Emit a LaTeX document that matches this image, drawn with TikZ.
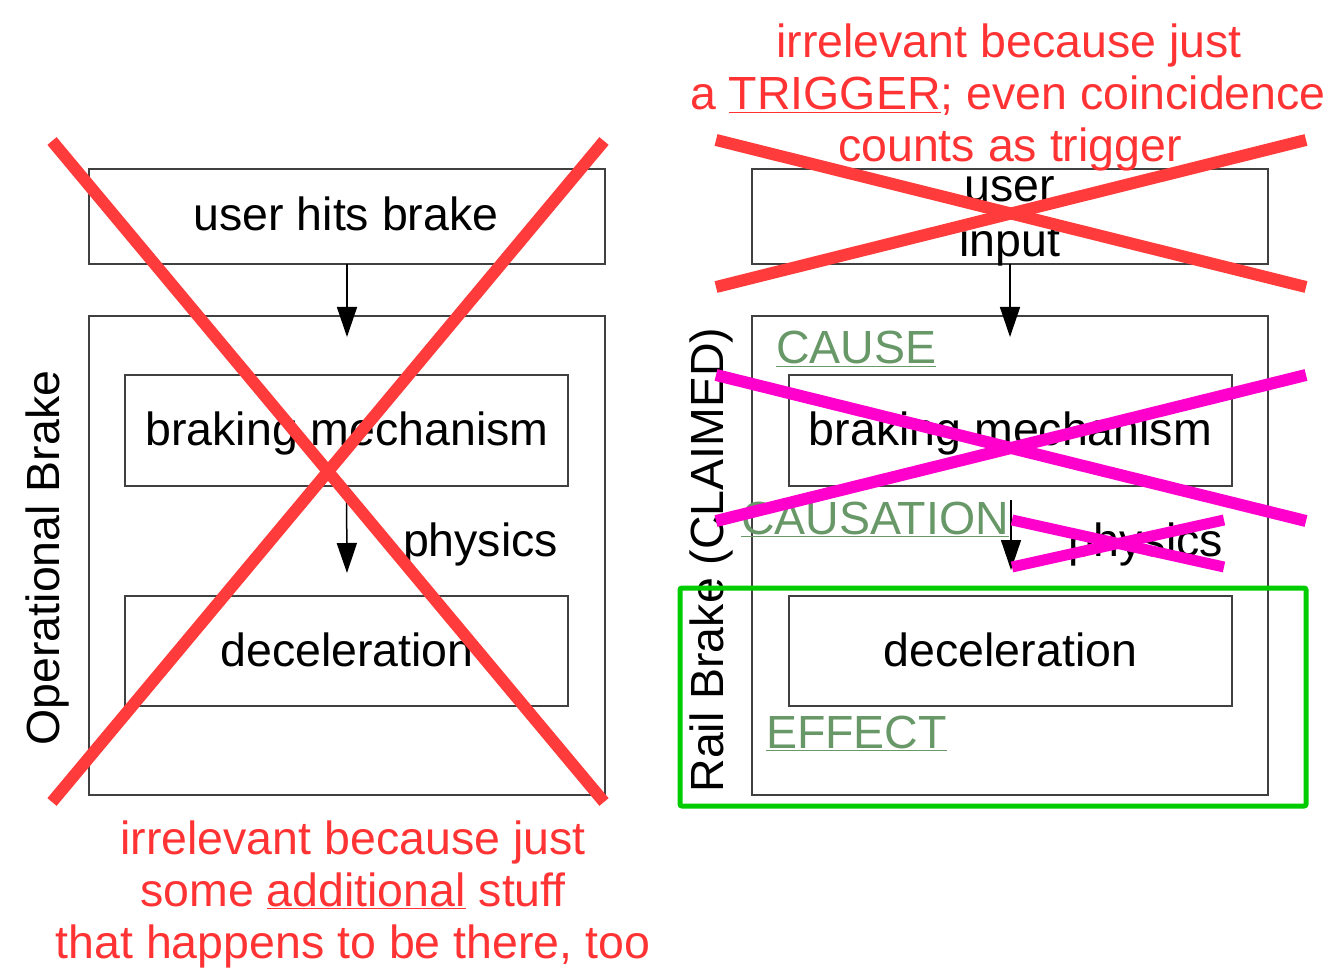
\documentclass[tikz,border=0pt]{standalone}
\usepackage{fontspec}
\setmainfont{Liberation Sans}
\usetikzlibrary{arrows.meta}
\definecolor{xred}{RGB}{255,59,59}
\definecolor{tred}{RGB}{255,51,51}
\definecolor{xmag}{RGB}{255,0,204}
\definecolor{tgreen}{RGB}{104,152,104}
\definecolor{gbox}{RGB}{0,204,0}
\definecolor{boxline}{RGB}{64,64,64}
\begin{document}
\begin{tikzpicture}[x=1pt,y=-1pt,
  every node/.style={inner sep=0pt, outer sep=0pt, font=\fontsize{46.5}{52}\selectfont},
  box/.style={draw=boxline, line width=1.5pt, rectangle},
  arr/.style={draw=black, line width=1.5pt, -{Triangle[length=30pt,width=20pt]}},
  redx/.style={draw=xred, line width=12pt},
  magx/.style={draw=xmag, line width=12pt},
  lbl/.style={anchor=base},
  lblw/.style={anchor=base west}
]
\path[use as bounding box] (0,0) rectangle (1339,973);

% ---------- left diagram ----------
\node[box, minimum width=516pt, minimum height=95pt]  (L1) at (347,216.5) {};
\node[box, minimum width=516pt, minimum height=479pt] (L2) at (347,555.5) {};
\node[box, minimum width=443pt, minimum height=111pt] (L3) at (346.5,430.5) {};
\node[box, minimum width=443pt, minimum height=110pt] (L4) at (346.5,651) {};

\node[lbl] (tL1) at (346,231) {user hits brake};
\node[lbl] (tL3) at (347,446) {braking mechanism};
\node[lbl] (tL4) at (347,666) {deceleration};
\node[lblw] (tLp) at (403,556) {physics};
\node[lbl, rotate=90] (tOB) at (59,558) {Operational Brake};

\coordinate (a1L) at (347,337);
\coordinate (a2L) at (347,573);
\draw[arr] (L1.south) -- (a1L);
\draw[arr] (L3.south) -- (a2L);

\node[lbl, text=tred] (b1) at (353,854) {irrelevant because just};
\node[lbl, text=tred] (b2) at (353,906) {some \underline{additional} stuff};
\node[lbl, text=tred] (b3) at (353,958) {that happens to be there, too};

\draw[redx] (52,141) -- (604,802);
\draw[redx] (604,141) -- (52,802);

% ---------- right diagram ----------
\node[box, minimum width=516pt, minimum height=95pt]  (R1) at (1010,216.5) {};
\node[box, minimum width=516pt, minimum height=479pt] (R2) at (1010,555.5) {};
\node[box, minimum width=443pt, minimum height=111pt] (R3) at (1010.5,430.5) {};
\node[box, minimum width=443pt, minimum height=110pt] (R4) at (1010.5,651) {};

\node[lbl] (tR1a) at (1010,202) {user};
\node[lbl] (tR1b) at (1010,257) {input};
\node[lbl] (tR3) at (1010.5,446) {braking mechanism};
\node[lbl] (tR4) at (1010.5,666) {deceleration};
\node[lblw] (tRp) at (1068,556) {physics};
\node[lbl, rotate=90] (tRB) at (723,560) {Rail Brake (CLAIMED)};

\node[lblw, text=tgreen] (cause) at (776,364) {\underline{CAUSE}};
\node[lblw, text=tgreen] (causation) at (741,534) {\underline{CAUSATION}};
\node[lblw, text=tgreen] (effect) at (766,748) {\underline{EFFECT}};

\coordinate (a1R) at (1010,337);
\coordinate (a2Rs) at (1011,500);
\coordinate (a2Re) at (1011,570);
\draw[arr] (R1.south) -- (a1R);
\draw[arr] (a2Rs) -- (a2Re);

\node[lbl, text=tred] (t1) at (1009,58) {irrelevant because just};
\node[lbl, text=tred] (t2) at (1008,110) {a \underline{TRIGGER}; even coincidence};
\node[lbl, text=tred] (t3) at (1010,162) {counts as trigger};

\draw[redx] (716,140) -- (1306,287);
\draw[redx] (716,287) -- (1306,140);

\draw[magx] (716,375) -- (1306,521);
\draw[magx] (716,521) -- (1306,375);
\draw[magx, line width=11pt] (1012,520) -- (1224,567);
\draw[magx, line width=11pt] (1012,567) -- (1224,520);

\draw[gbox, line width=5pt, rounded corners=2pt] (680,588) rectangle (1306,806);
\end{tikzpicture}
\end{document}
